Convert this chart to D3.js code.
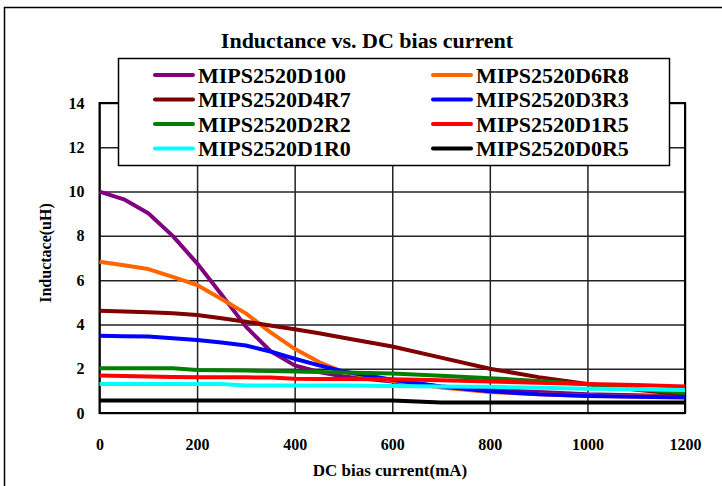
<!DOCTYPE html>
<html>
<head>
<meta charset="utf-8">
<script src="https://cdn.jsdelivr.net/npm/d3@7"></script>
<style>
    body { margin: 0; background: #fff; }
    text { font-family: "Liberation Serif", "Times New Roman", serif; font-weight: bold; }
</style>
</head>
<body>
<div id="chart"></div>
<script>
// DC bias current (mA)
const current = [0, 50, 100, 150, 200, 250, 300, 350, 400, 450, 500, 600, 700, 800, 900, 1000, 1100, 1200];

// inductance (uH) for each part
const d100 = [10.0, 9.65, 9.02, 8.0, 6.76, 5.35, 3.9, 2.8, 2.15, 1.85, 1.65, 1.42, 1.2, 1.05, 0.95, 0.85, 0.8, 0.75];
const d6r8 = [6.83, 6.67, 6.5, 6.15, 5.78, 5.15, 4.5, 3.65, 2.9, 2.3, 1.85, 1.45, 1.15, 0.95, 0.85, 0.78, 0.74, 0.72];
const d4r7 = [4.62, 4.58, 4.55, 4.5, 4.43, 4.28, 4.12, 3.95, 3.78, 3.6, 3.4, 3.0, 2.5, 2.0, 1.62, 1.31, 1.05, 0.83];
const d3r3 = [3.49, 3.47, 3.45, 3.38, 3.3, 3.18, 3.05, 2.78, 2.45, 2.15, 1.88, 1.5, 1.2, 0.98, 0.85, 0.77, 0.73, 0.7];
const d2r2 = [2.02, 2.02, 2.02, 2.02, 1.94, 1.93, 1.92, 1.9, 1.87, 1.85, 1.83, 1.78, 1.68, 1.57, 1.45, 1.3, 1.1, 0.9];
const d1r5 = [1.69, 1.67, 1.65, 1.63, 1.61, 1.61, 1.61, 1.6, 1.55, 1.54, 1.54, 1.52, 1.48, 1.42, 1.37, 1.31, 1.26, 1.2];
const d1r0 = [1.31, 1.31, 1.31, 1.31, 1.31, 1.31, 1.24, 1.24, 1.24, 1.24, 1.24, 1.22, 1.2, 1.18, 1.14, 1.1, 1.07, 1.04];
const d0r5 = [0.56, 0.56, 0.56, 0.56, 0.56, 0.56, 0.56, 0.56, 0.56, 0.56, 0.56, 0.56, 0.47, 0.47, 0.47, 0.47, 0.47, 0.47];

const seriesNames = ['MIPS2520D100', 'MIPS2520D6R8', 'MIPS2520D4R7', 'MIPS2520D3R3',
    'MIPS2520D2R2', 'MIPS2520D1R5', 'MIPS2520D1R0', 'MIPS2520D0R5'];
const seriesValues = [d100, d6r8, d4r7, d3r3, d2r2, d1r5, d1r0, d0r5];
const seriesColors = ['#800080', '#FF6600', '#800000', '#0000FF', '#008000', '#FF0000', '#00FFFF', '#000000'];

const xTicks = [0, 200, 400, 600, 800, 1000, 1200];
const yTicks = [0, 2, 4, 6, 8, 10, 12, 14];

const width = 722, height = 486;
const margin = { left: 99.5, right: 37, top: 103, bottom: 73 };

const svg = d3.select('#chart').append('svg')
    .attr('width', width)
    .attr('height', height);

// outer frame of the chart area
svg.append('rect')
    .attr('x', 4.5)
    .attr('y', 7.5)
    .attr('width', 740)
    .attr('height', 500)
    .attr('fill', 'none')
    .attr('stroke', '#000')
    .attr('stroke-width', 1.5);

const xScale = d3.scaleLinear()
    .domain([0, 1200])
    .range([margin.left, width - margin.right]);

const yScale = d3.scaleLinear()
    .domain([0, 14])
    .range([height - margin.bottom, margin.top]);

// grid
const xAxis = d3.axisBottom(xScale)
    .tickValues(xTicks)
    .tickFormat(d3.format('d'))
    .tickSize(-(height - margin.top - margin.bottom))
    .tickSizeOuter(0)
    .tickPadding(26);

const gX = svg.append('g')
    .attr('transform', 'translate(0,' + (height - margin.bottom) + ')')
    .call(xAxis);
gX.select('.domain').remove();
gX.selectAll('line').attr('stroke', '#222').attr('stroke-width', 1.5);
gX.selectAll('text')
    .attr('fill', '#000')
    .style('font-size', '16px')
    .style('font-family', '"Liberation Serif", serif');

const yAxis = d3.axisLeft(yScale)
    .tickValues(yTicks)
    .tickFormat(d3.format('d'))
    .tickSize(-(width - margin.left - margin.right))
    .tickSizeOuter(0)
    .tickPadding(15);

const gY = svg.append('g')
    .attr('transform', 'translate(' + margin.left + ',0)')
    .call(yAxis);
gY.select('.domain').remove();
gY.selectAll('line').attr('stroke', '#222').attr('stroke-width', 1.5);
gY.selectAll('text')
    .attr('fill', '#000')
    .style('font-size', '16px')
    .style('font-family', '"Liberation Serif", serif');

// plot frame
svg.append('rect')
    .attr('x', margin.left)
    .attr('y', margin.top)
    .attr('width', width - margin.left - margin.right)
    .attr('height', height - margin.top - margin.bottom)
    .attr('fill', 'none')
    .attr('stroke', '#000')
    .attr('stroke-width', 2);

const line = d3.line()
    .x((d, i) => xScale(current[i]))
    .y(d => yScale(d));

seriesValues.forEach((values, index) => {
    svg.append('path')
        .datum(values)
        .attr('fill', 'none')
        .attr('stroke', seriesColors[index])
        .attr('stroke-width', 4)
        .attr('stroke-linejoin', 'round')
        .attr('d', line);
});

// title
svg.append('text')
    .attr('x', 367)
    .attr('y', 48)
    .attr('text-anchor', 'middle')
    .style('font-size', '22px')
    .text('Inductance vs. DC bias current');

// axis labels
svg.append('text')
    .attr('x', 390)
    .attr('y', 476)
    .attr('text-anchor', 'middle')
    .style('font-size', '17px')
    .text('DC bias current(mA)');

svg.append('text')
    .attr('transform', 'translate(51,253) rotate(-90)')
    .attr('text-anchor', 'middle')
    .style('font-size', '16px')
    .text('Inductace(uH)');

// legend
const legend = svg.append('g');
legend.append('rect')
    .attr('x', 118.5)
    .attr('y', 58.5)
    .attr('width', 551)
    .attr('height', 107)
    .attr('fill', '#fff')
    .attr('stroke', '#000')
    .attr('stroke-width', 1.5);

seriesNames.forEach((name, i) => {
    const col = i % 2, row = Math.floor(i / 2);
    const lx = col === 0 ? 155 : 433;
    const ly = 75 + row * 24.5;
    legend.append('line')
        .attr('x1', lx)
        .attr('x2', lx + 38)
        .attr('y1', ly)
        .attr('y2', ly)
        .attr('stroke', seriesColors[i])
        .attr('stroke-width', 4)
        .attr('stroke-linecap', 'round');
    legend.append('text')
        .attr('x', lx + 43)
        .attr('y', ly + 7.5)
        .style('font-size', '22px')
        .text(name);
});
</script>
</body>
</html>
